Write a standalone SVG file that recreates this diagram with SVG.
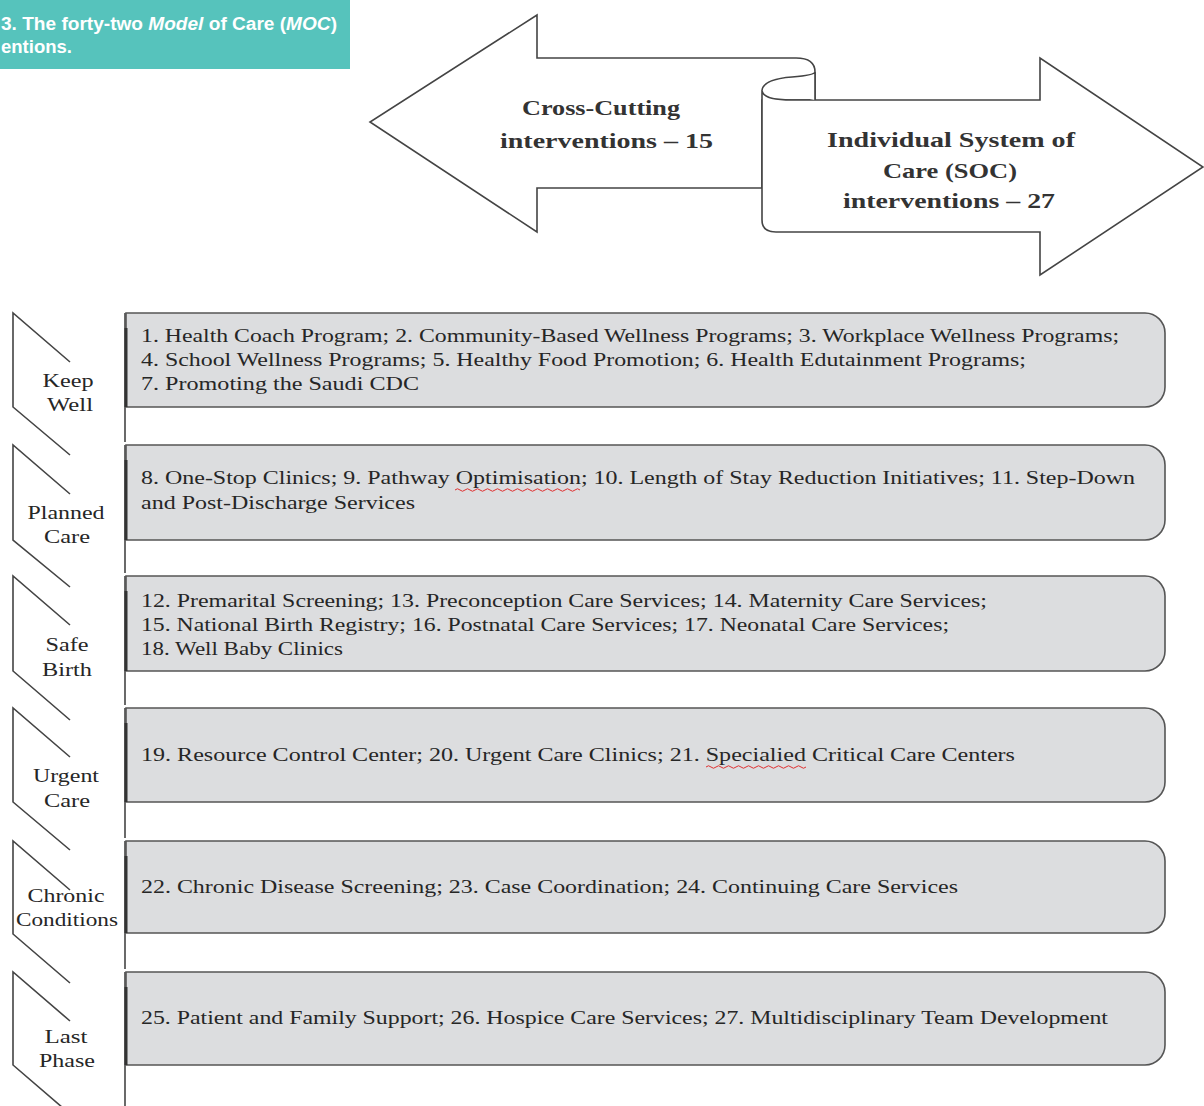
<svg xmlns="http://www.w3.org/2000/svg" width="1204" height="1106" viewBox="0 0 1204 1106">
<style>
.bg{fill:#ffffff}
.ban{fill:#56c3bc}
.bant{font-family:"Liberation Sans","DejaVu Sans",sans-serif;font-weight:bold;font-size:18px;fill:#ffffff}
.arr{fill:#ffffff;stroke:#444;stroke-width:1.6;stroke-linejoin:miter}
.arrt{font-family:"Liberation Serif","Times New Roman",serif;font-weight:bold;font-size:22px;fill:#333}
.box{fill:#dcdddf;stroke:#555;stroke-width:1.6}
.edge{stroke:#333;stroke-width:3}
.chev{fill:none;stroke:#444;stroke-width:1.6}
.spine{stroke:#444;stroke-width:1.6}
.tx{font-family:"Liberation Serif","Times New Roman",serif;font-size:19px;fill:#262626}
.lb{font-family:"Liberation Serif","Times New Roman",serif;font-size:19px;fill:#262626;text-anchor:middle}
.sq{fill:none;stroke:#e03030;stroke-width:1}
</style>
<rect class="bg" x="0" y="0" width="1204" height="1106"/>

<g id="banner">
<rect class="ban" x="0" y="0" width="350" height="69"/>
<text class="bant" x="1" y="30" textLength="336" lengthAdjust="spacingAndGlyphs">3. The forty-two <tspan font-style="italic">Model</tspan> of Care (<tspan font-style="italic">MOC</tspan>)</text>
<text class="bant" x="1" y="53" textLength="71" lengthAdjust="spacingAndGlyphs">entions.</text>
</g>

<g id="arrow-crosscutting">
<path class="arr" d="M796,58 L537,58 L537,15 L370,122 L537,232 L537,188 L762,188 L762,100 L815,100 L815,72 Q815,58 796,58 Z"/>
<text class="arrt" x="522" y="115" textLength="158" lengthAdjust="spacingAndGlyphs">Cross-Cutting</text>
<text class="arrt" x="500" y="148" textLength="213" lengthAdjust="spacingAndGlyphs">interventions  – 15</text>
</g>

<g id="arrow-soc">
<path class="arr" d="M762,90 L762,220 Q762,232 776,232 L1040,232 L1040,275 L1203,167 L1040,58 L1040,100 L792,100 Q762,100 762,90 Z"/>
<path class="arr" d="M762,90 Q764,79 792,77 Q815,75 815,72 L815,100"/>
<text class="arrt" x="827" y="147" textLength="248" lengthAdjust="spacingAndGlyphs">Individual  System  of</text>
<text class="arrt" x="883" y="178" textLength="134" lengthAdjust="spacingAndGlyphs">Care (SOC)</text>
<text class="arrt" x="843" y="208" textLength="212" lengthAdjust="spacingAndGlyphs">interventions  – 27</text>
</g>

<g id="connectors">
<line class="spine" x1="125" y1="313" x2="125" y2="442"/>
<line class="spine" x1="125" y1="445" x2="125" y2="573"/>
<line class="spine" x1="125" y1="576" x2="125" y2="705"/>
<line class="spine" x1="125" y1="708" x2="125" y2="838"/>
<line class="spine" x1="125" y1="841" x2="125" y2="969"/>
<line class="spine" x1="125" y1="972" x2="125" y2="1106"/>
</g>

<g id="keep-well">
<path class="chev" d="M70,362 L13,313 L13,407 L70,455"/>
<text class="lb" x="68" y="387" textLength="51" lengthAdjust="spacingAndGlyphs">Keep</text>
<text class="lb" x="70" y="411" textLength="46" lengthAdjust="spacingAndGlyphs">Well</text>
<path class="box" d="M126,313 H1145 A20,20 0 0 1 1165,333 V387 A20,20 0 0 1 1145,407 H126 Z"/>
<line class="edge" x1="126" y1="328" x2="126" y2="407"/>
<text class="tx" x="141" y="342" textLength="978" lengthAdjust="spacingAndGlyphs">1. Health Coach Program; 2. Community-Based Wellness Programs; 3. Workplace Wellness Programs;</text>
<text class="tx" x="141" y="366" textLength="885" lengthAdjust="spacingAndGlyphs">4. School Wellness Programs; 5. Healthy Food Promotion; 6. Health Edutainment Programs;</text>
<text class="tx" x="141" y="390" textLength="278" lengthAdjust="spacingAndGlyphs">7. Promoting the Saudi CDC</text>
</g>

<g id="planned-care">
<path class="chev" d="M70,494 L13,445 L13,540 L70,587"/>
<text class="lb" x="66" y="519" textLength="77" lengthAdjust="spacingAndGlyphs">Planned</text>
<text class="lb" x="67" y="543" textLength="46" lengthAdjust="spacingAndGlyphs">Care</text>
<path class="box" d="M126,445 H1145 A20,20 0 0 1 1165,465 V520 A20,20 0 0 1 1145,540 H126 Z"/>
<line class="edge" x1="126" y1="460" x2="126" y2="540"/>
<text class="tx" x="141" y="484" textLength="994" lengthAdjust="spacingAndGlyphs">8. One-Stop Clinics; 9. Pathway Optimisation; 10. Length of Stay Reduction Initiatives; 11. Step-Down</text>
<text class="tx" x="141" y="509" textLength="274" lengthAdjust="spacingAndGlyphs">and Post-Discharge Services</text>
<path class="sq" d="M455,490 q2.5,-2.5 5,0 t5,0 t5,0 t5,0 t5,0 t5,0 t5,0 t5,0 t5,0 t5,0 t5,0 t5,0 t5,0 t5,0 t5,0 t5,0 t5,0 t5,0 t5,0 t5,0 t5,0 t5,0 t5,0 t5,0 t5,0"/>
</g>

<g id="safe-birth">
<path class="chev" d="M70,625 L13,576 L13,671 L70,720"/>
<text class="lb" x="67" y="651" textLength="43" lengthAdjust="spacingAndGlyphs">Safe</text>
<text class="lb" x="67" y="676" textLength="50" lengthAdjust="spacingAndGlyphs">Birth</text>
<path class="box" d="M126,576 H1145 A20,20 0 0 1 1165,596 V651 A20,20 0 0 1 1145,671 H126 Z"/>
<line class="edge" x1="126" y1="591" x2="126" y2="671"/>
<text class="tx" x="141" y="607" textLength="846" lengthAdjust="spacingAndGlyphs">12. Premarital Screening; 13. Preconception Care Services; 14. Maternity Care Services;</text>
<text class="tx" x="141" y="631" textLength="808" lengthAdjust="spacingAndGlyphs">15. National Birth Registry; 16. Postnatal Care Services; 17. Neonatal Care Services;</text>
<text class="tx" x="141" y="655" textLength="202" lengthAdjust="spacingAndGlyphs">18. Well Baby Clinics</text>
</g>

<g id="urgent-care">
<path class="chev" d="M70,757 L13,708 L13,802 L70,850"/>
<text class="lb" x="66" y="782" textLength="66" lengthAdjust="spacingAndGlyphs">Urgent</text>
<text class="lb" x="67" y="807" textLength="46" lengthAdjust="spacingAndGlyphs">Care</text>
<path class="box" d="M126,708 H1145 A20,20 0 0 1 1165,728 V782 A20,20 0 0 1 1145,802 H126 Z"/>
<line class="edge" x1="126" y1="723" x2="126" y2="802"/>
<text class="tx" x="141" y="761" textLength="874" lengthAdjust="spacingAndGlyphs">19. Resource Control Center; 20. Urgent Care Clinics; 21. Specialied Critical Care Centers</text>
<path class="sq" d="M706,767 q2.5,-2.5 5,0 t5,0 t5,0 t5,0 t5,0 t5,0 t5,0 t5,0 t5,0 t5,0 t5,0 t5,0 t5,0 t5,0 t5,0 t5,0 t5,0 t5,0 t5,0 t5,0"/>
</g>

<g id="chronic-conditions">
<path class="chev" d="M70,890 L13,841 L13,934 L70,983"/>
<text class="lb" x="66" y="902" textLength="77" lengthAdjust="spacingAndGlyphs">Chronic</text>
<text class="lb" x="67" y="926" textLength="102" lengthAdjust="spacingAndGlyphs">Conditions</text>
<path class="box" d="M126,841 H1145 A20,20 0 0 1 1165,861 V913 A20,20 0 0 1 1145,933 H126 Z"/>
<line class="edge" x1="126" y1="856" x2="126" y2="933"/>
<text class="tx" x="141" y="893" textLength="817" lengthAdjust="spacingAndGlyphs">22. Chronic Disease Screening; 23. Case Coordination; 24. Continuing Care Services</text>
</g>

<g id="last-phase">
<path class="chev" d="M70,1021 L13,972 L13,1065 L70,1114"/>
<text class="lb" x="66" y="1043" textLength="43" lengthAdjust="spacingAndGlyphs">Last</text>
<text class="lb" x="67" y="1067" textLength="56" lengthAdjust="spacingAndGlyphs">Phase</text>
<path class="box" d="M126,972 H1145 A20,20 0 0 1 1165,992 V1045 A20,20 0 0 1 1145,1065 H126 Z"/>
<line class="edge" x1="126" y1="987" x2="126" y2="1065"/>
<text class="tx" x="141" y="1024" textLength="967" lengthAdjust="spacingAndGlyphs">25. Patient and Family Support; 26. Hospice Care Services; 27. Multidisciplinary Team Development</text>
</g>
</svg>
